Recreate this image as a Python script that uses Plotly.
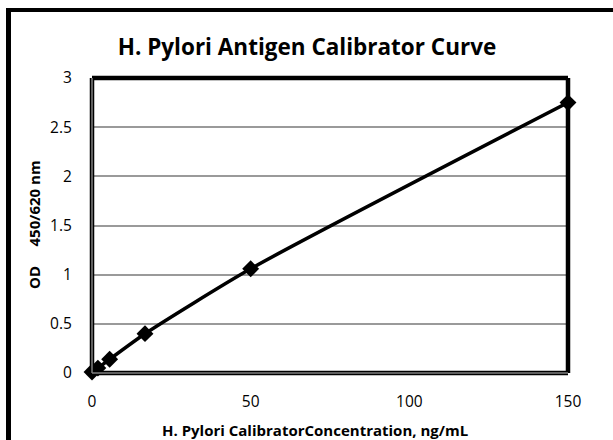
import plotly.graph_objects as go

conc = [0, 1.85, 5.56, 16.7, 50, 150]
od = [0.01, 0.05, 0.14, 0.40, 1.06, 2.75]
x_ticks = [0, 50, 100, 150]
y_ticks = [0, 0.5, 1, 1.5, 2, 2.5, 3]
y_tick_labels = ["0", "0.5", "1", "1.5", "2", "2.5", "3"]
title_text = "H. Pylori Antigen Calibrator Curve"
x_title = "H. Pylori CalibratorConcentration, ng/mL"
y_title = "OD&nbsp;&nbsp;&nbsp;&nbsp;&nbsp;450/620 nm"

FONT = "Open Sans"
W, H = 613, 440
L, R, T, B = 92, 45, 78, 67
pw, ph = W - L - R, H - T - B

def px(xp):
    return (xp - L) / pw

def py(yp):
    return (H - B - yp) / ph

fig = go.Figure()
fig.add_trace(go.Scatter(
    x=conc, y=od, mode="lines+markers",
    line=dict(color="black", width=3.5, shape="spline", smoothing=0.6),
    marker=dict(symbol="diamond", size=13, color="black"),
    cliponaxis=False, showlegend=False,
))

shapes = []
shapes.append(dict(type="line", xref="paper", yref="paper", x0=0, x1=1, y0=1, y1=1,
                   line=dict(color="black", width=4.5)))
shapes.append(dict(type="line", xref="paper", yref="paper", x0=1, x1=1, y0=0, y1=1,
                   line=dict(color="black", width=4.5)))
for c, w in [("black", 4.5), ("#7f7f7f", 1.5)]:
    shapes.append(dict(type="line", xref="paper", yref="paper", x0=0, x1=1, y0=0, y1=0,
                       line=dict(color=c, width=w)))
    shapes.append(dict(type="line", xref="paper", yref="paper", x0=0, x1=0, y0=0, y1=1,
                       line=dict(color=c, width=w)))
shapes.append(dict(type="line", xref="paper", yref="paper", x0=px(8.5), x1=px(8.5),
                   y0=py(8), y1=py(445), line=dict(color="black", width=5)))
shapes.append(dict(type="line", xref="paper", yref="paper", x0=px(6), x1=px(620),
                   y0=py(10), y1=py(10), line=dict(color="black", width=4)))

annotations = [
    dict(text="<b>" + x_title + "</b>", xref="paper", yref="paper",
         x=px(314.5), y=py(430), xanchor="center", yanchor="middle", showarrow=False,
         font=dict(family=FONT, size=15, color="black")),
    dict(text="<b>" + y_title + "</b>", xref="paper", yref="paper", textangle=-90,
         x=px(34), y=py(225), xanchor="center", yanchor="middle", showarrow=False,
         font=dict(family=FONT, size=15, color="black")),
]

fig.update_layout(
    width=W, height=H,
    margin=dict(l=L, r=R, t=T, b=B, autoexpand=False),
    paper_bgcolor="white", plot_bgcolor="white",
    title=dict(text="<b>" + title_text + "</b>", x=307 / W, xanchor="center",
               y=1 - 47 / H, yanchor="middle",
               font=dict(family=FONT, size=22.5, color="black")),
    xaxis=dict(range=[0, 150], tickvals=x_ticks, ticktext=[str(v) for v in x_ticks],
               showgrid=False, zeroline=False, showline=False, ticks="outside",
               ticklen=0, ticklabelstandoff=14, automargin=False,
               tickfont=dict(family=FONT, size=15.5, color="black")),
    yaxis=dict(range=[0, 3], tickvals=y_ticks, ticktext=y_tick_labels,
               showgrid=True, gridcolor="#9a9a9a", gridwidth=1.5, zeroline=False,
               showline=False, ticks="outside", ticklen=0, ticklabelstandoff=16,
               automargin=False,
               tickfont=dict(family=FONT, size=15.5, color="black")),
    shapes=shapes,
    annotations=annotations,
)

fig.write_html("out.html", config={"displayModeBar": False},
               post_script="document.body.style.margin='0';document.body.style.overflow='hidden';")
